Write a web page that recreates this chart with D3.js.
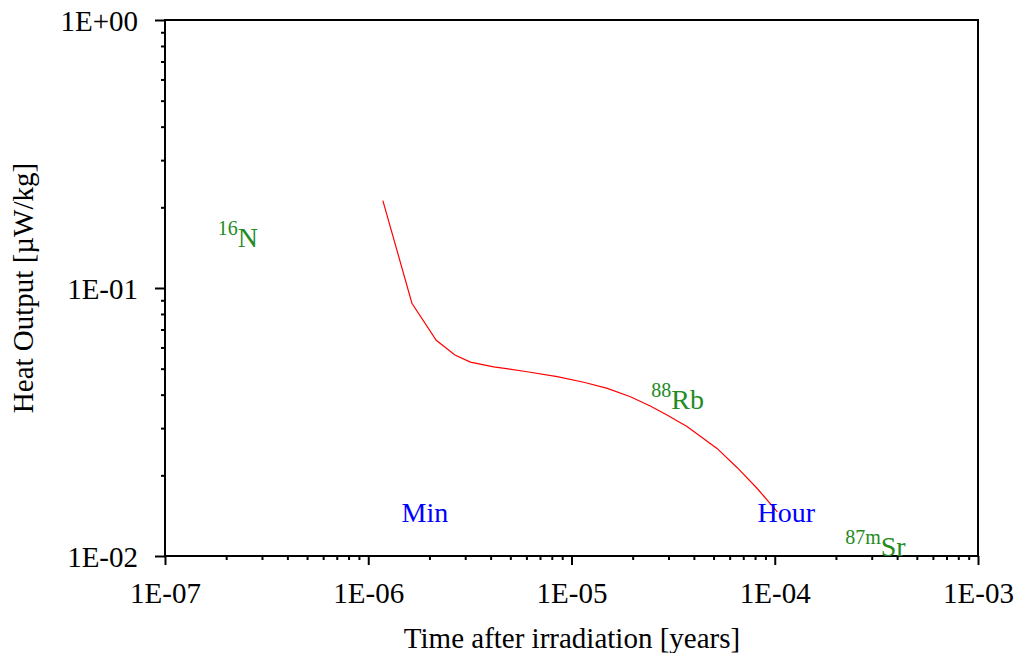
<!DOCTYPE html>
<html>
<head>
<meta charset="utf-8">
<script src="https://cdn.jsdelivr.net/npm/d3@7"></script>
<style>
  html, body { margin: 0; padding: 0; background: #fff; }
  svg { display: block; }
  text { font-family: "Liberation Serif", "Times New Roman", serif; }
</style>
</head>
<body>
<svg id="chart" width="1016" height="653"></svg>
<script>
// ---- data ----
const timeYears = [1.18e-6, 1.64e-6, 2.16e-6, 2.67e-6, 3.18e-6, 4.14e-6, 6.05e-6, 8.5e-6,
                   1.15e-5, 1.5e-5, 1.95e-5, 2.44e-5, 2.95e-5, 3.7e-5, 5.2e-5, 6.52e-5, 8.18e-5, 1.03e-4];
const heatOutput = [0.212, 0.0877, 0.0638, 0.0562, 0.0529, 0.0508, 0.0487, 0.0467,
                    0.0445, 0.0422, 0.0393, 0.0363, 0.0336, 0.0304, 0.0252, 0.0214, 0.0179, 0.0146];
const xTickValues = [1e-7, 1e-6, 1e-5, 1e-4, 1e-3];
const xTickLabels = ["1E-07", "1E-06", "1E-05", "1E-04", "1E-03"];
const yTickValues = [1e-2, 1e-1, 1];
const yTickLabels = ["1E-02", "1E-01", "1E+00"];
// nuclide labels: [superscript, symbol, x (years), y (µW/kg)]
const nuclideSup = ["16", "88", "87m"];
const nuclideSym = ["N", "Rb", "Sr"];
const nuclideX = [1.82e-7, 2.47e-5, 2.22e-4];
const nuclideY = [0.142, 0.0353, 0.01];
// time markers
const markerText = ["Min", "Hour"];
const markerX = [1.9e-6, 1.14e-4];
const markerY = [0.0134, 0.0134];

// ---- layout ----
const svg = d3.select("#chart");
const L = 165, T = 20, R = 978, B = 556;
const x = d3.scaleLog().domain([1e-7, 1e-3]).range([L, R]);
const y = d3.scaleLog().domain([1e-2, 1]).range([B, T]);
const fs = 29;
const font = "Liberation Serif, Times New Roman, serif";

function minorTicks(lo, hi) {
  const out = [];
  for (let e = Math.log10(lo); e < Math.log10(hi); e++) {
    for (let m = 2; m <= 9; m++) out.push(m * Math.pow(10, e));
  }
  return out;
}

// frame
svg.append("rect").attr("x", L).attr("y", T).attr("width", R - L).attr("height", B - T)
  .attr("fill", "none").attr("stroke", "#000").attr("stroke-width", 2);

// x axis
const gx = svg.append("g").attr("transform", `translate(0,${B})`);
gx.call(d3.axisBottom(x).tickValues(minorTicks(1e-7, 1e-3)).tickSize(4).tickFormat(""));
gx.call(g => g.append("g").call(d3.axisBottom(x).tickValues(xTickValues).tickSize(9)
  .tickFormat((d, i) => xTickLabels[i])));
gx.selectAll(".domain").remove();
gx.selectAll("line").attr("stroke", "#000").attr("stroke-width", 2);
gx.selectAll("text").attr("font-size", fs).attr("fill", "#000")
  .attr("font-family", font).attr("y", 47).attr("dy", 0);

// y axis
const gy = svg.append("g").attr("transform", `translate(${L},0)`);
gy.call(d3.axisLeft(y).tickValues(minorTicks(1e-2, 1)).tickSize(4).tickFormat(""));
gy.call(g => g.append("g").call(d3.axisLeft(y).tickValues(yTickValues).tickSize(10)
  .tickFormat((d, i) => yTickLabels[i])));
gy.selectAll(".domain").remove();
gy.selectAll("line").attr("stroke", "#000").attr("stroke-width", 2);
gy.selectAll("text").attr("font-size", fs).attr("fill", "#000")
  .attr("font-family", font).attr("x", -27).attr("dy", 10);

// axis titles
svg.append("text").attr("x", 572).attr("y", 648).attr("text-anchor", "middle")
  .attr("font-size", fs).text("Time after irradiation [years]");
svg.append("text").attr("transform", `translate(33,${(T + B) / 2}) rotate(-90)`)
  .attr("text-anchor", "middle").attr("font-size", fs).text("Heat Output [µW/kg]");

// curve
svg.append("path")
  .datum(timeYears.map((t, i) => [t, heatOutput[i]]))
  .attr("fill", "none").attr("stroke", "#ff0000").attr("stroke-width", 1.2)
  .attr("d", d3.line().x(d => x(d[0])).y(d => y(d[1])));

// time markers
markerText.forEach((t, i) => {
  svg.append("text").attr("x", x(markerX[i])).attr("y", y(markerY[i]))
    .attr("text-anchor", "middle").attr("fill", "#0000ff").attr("font-size", 28).text(t);
});

// nuclide labels
nuclideSup.forEach((s, i) => {
  const t = svg.append("text").attr("x", x(nuclideX[i])).attr("y", y(nuclideY[i]))
    .attr("fill", "#228b22").attr("font-size", 28);
  t.append("tspan").attr("font-size", 20).attr("dy", -12).text(s);
  t.append("tspan").attr("dy", 12).text(nuclideSym[i]);
});
</script>
</body>
</html>
